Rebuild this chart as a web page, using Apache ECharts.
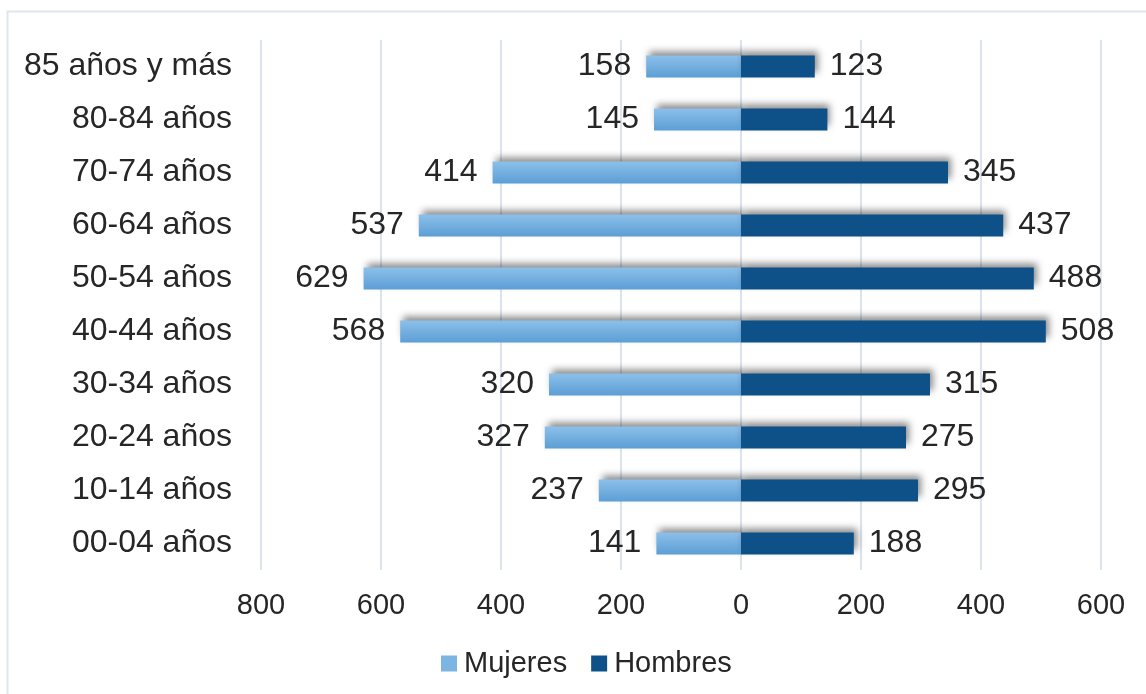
<!DOCTYPE html>
<html>
<head>
<meta charset="utf-8">
<script src="https://cdn.jsdelivr.net/npm/echarts@6/dist/echarts.min.js"></script>
<style>
html,body{margin:0;padding:0;background:#fff;}
#main{width:1146px;height:694px;}
</style>
</head>
<body>
<div id="main"></div>
<script>
var categories = ['00-04 años','10-14 años','20-24 años','30-34 años','40-44 años','50-54 años','60-64 años','70-74 años','80-84 años','85 años y más'];
var mujeres = [141, 237, 327, 320, 568, 629, 537, 414, 145, 158];
var hombres = [188, 295, 275, 315, 508, 488, 437, 345, 144, 123];
var xTicks = { min: -800, max: 600, interval: 200 };

var FONT = '"Liberation Sans", Arial, sans-serif';
var TXT = '#262626';
var chart = echarts.init(document.getElementById('main'), null, {renderer: 'canvas'});
var shadow = { shadowColor: 'rgba(0,0,0,0.45)', shadowBlur: 7, shadowOffsetX: 3, shadowOffsetY: -5 };

chart.setOption({
  animation: false,
  backgroundColor: '#ffffff',
  textStyle: { fontFamily: FONT },
  graphic: [{
    type: 'rect', silent: true, z: -10,
    shape: { x: 7.5, y: 11.5, width: 1160, height: 700 },
    style: { fill: 'none', stroke: '#dfe6f0', lineWidth: 2 }
  }],
  grid: { left: 261, right: 45, top: 40, bottom: 124, containLabel: false },
  legend: {
    data: [
      { name: 'Mujeres', itemStyle: { color: '#7cb4e2' } },
      { name: 'Hombres', itemStyle: { color: '#0e5189' } }
    ],
    left: 436, top: 644,
    itemWidth: 16, itemHeight: 16, itemGap: 24,
    icon: 'rect',
    textStyle: { fontSize: 29, color: TXT, fontFamily: FONT, padding: [0, 0, 0, 2] }
  },
  xAxis: {
    type: 'value',
    min: xTicks.min, max: xTicks.max, interval: xTicks.interval,
    axisLine: { show: false },
    axisTick: { show: false },
    splitLine: { show: true, lineStyle: { color: '#dbe3ee', width: 2 } },
    axisLabel: {
      fontSize: 29, color: TXT, fontFamily: FONT, margin: 21,
      formatter: function (v) { return String(Math.abs(v)); }
    }
  },
  yAxis: {
    type: 'category',
    data: categories,
    axisLine: { show: false },
    axisTick: { show: false },
    splitLine: { show: false },
    axisLabel: { fontSize: 32, color: TXT, fontFamily: FONT, margin: 29, lineHeight: 38, padding: [4, 0, 0, 0] }
  },
  series: [
    {
      name: 'Mujeres', type: 'bar', stack: 'p', barWidth: 22,
      data: mujeres.map(function (v) { return -v; }),
      itemStyle: Object.assign({
        color: new echarts.graphic.LinearGradient(0, 0, 0, 1, [
          { offset: 0, color: '#8cc0ea' },
          { offset: 1, color: '#5c9ed5' }
        ])
      }, shadow),
      label: {
        show: true, position: 'left', distance: 15,
        fontSize: 32, color: TXT, fontFamily: FONT, lineHeight: 38, padding: [4, 0, 0, 0],
        formatter: function (p) { return String(Math.abs(p.value)); }
      }
    },
    {
      name: 'Hombres', type: 'bar', stack: 'p', barWidth: 22,
      data: hombres,
      itemStyle: Object.assign({ color: '#0e5189' }, shadow),
      label: {
        show: true, position: 'right', distance: 15,
        fontSize: 32, color: TXT, fontFamily: FONT, lineHeight: 38, padding: [4, 0, 0, 0]
      }
    }
  ]
});
</script>
</body>
</html>
